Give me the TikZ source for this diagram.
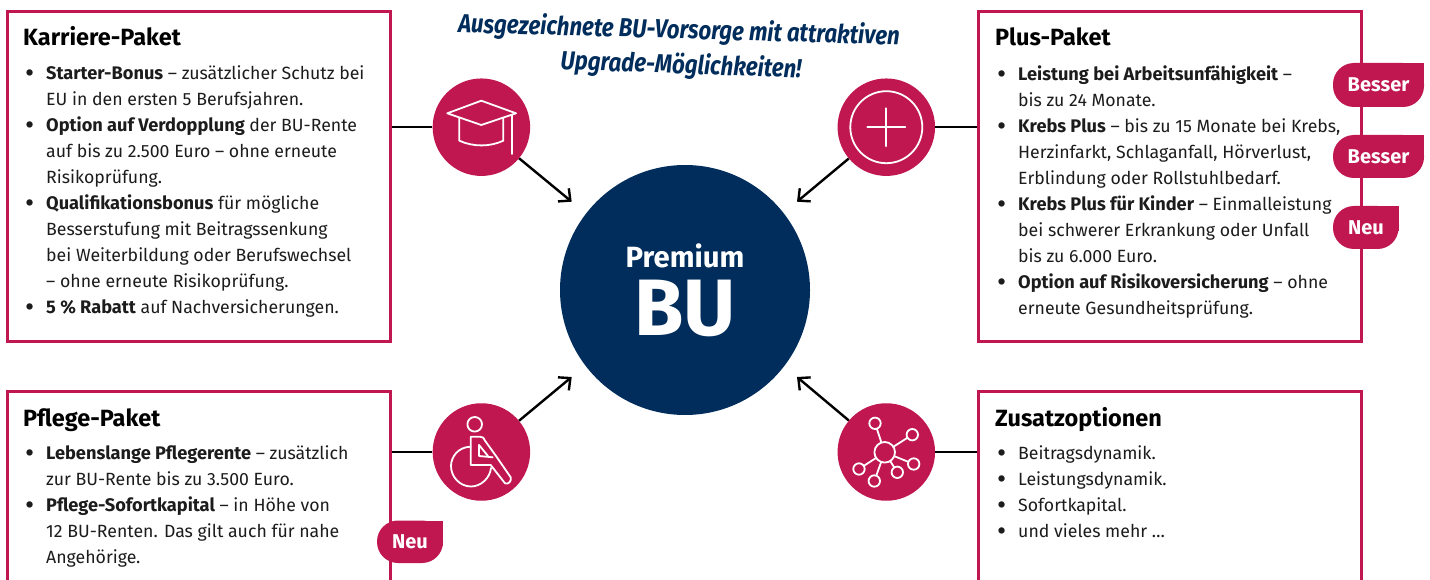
\documentclass[tikz,border=0pt]{standalone}
\usepackage{fontspec}
\setmainfont{Fira Sans}
\usetikzlibrary{arrows.meta,calc}
\definecolor{accent}{HTML}{C01750}
\definecolor{navy}{HTML}{002D5C}
\definecolor{ink}{HTML}{1C1C1C}
\newcommand{\itm}{\makebox[19pt][l]{\hspace{-2.2pt}\raisebox{-3.2pt}[0pt][0pt]{\fontsize{28}{28}\selectfont•}}}
\newcommand{\cnt}{\hspace*{19pt}}
\newcommand{\bd}[1]{{\fontsize{18.2}{26}\selectfont\bfseries #1}}
\newcommand{\badgeshape}[4]{%
  \fill[accent,rounded corners=21pt] (#1,#2) rectangle (#3,#4);
  \fill[accent] (#3-25,#2) rectangle (#3,#2+25);}
\tikzset{
  panel/.style={draw=accent,line width=2.8pt,anchor=north west,minimum width=383pt,fill=white,inner sep=0pt},
  disc/.style={circle,fill=accent,minimum size=97.5pt,inner sep=0pt},
  body/.style={anchor=north west,align=left,inner sep=0pt,text=ink,font=\fontsize{17.7}{26}\selectfont},
  head/.style={anchor=base west,inner sep=0pt,text=black,font=\fontsize{23.5}{28}\selectfont\bfseries},
  badgetext/.style={inner sep=0pt,text=white,font=\fontsize{20}{22}\selectfont\bfseries},
  tie/.style={draw=black,line width=2.4pt},
  flow/.style={draw=black,line width=2.4pt,-{Straight Barb[length=9pt,width=17pt,line width=2.4pt]}},
  glyph/.style={draw=white,line width=1.8pt,line join=round,line cap=round},
  slogan/.style={inner sep=0pt,text=navy,font=\fontsize{26}{30}\selectfont\itshape\bfseries}
}
\begin{document}
\begin{tikzpicture}[x=1pt,y=-1pt]
\clip (0,0) rectangle (1430,580);
\fill[white] (0,0) rectangle (1430,580);

% panels
\node[panel,minimum height=330pt] (karriere) at (6,10) {};
\node[panel,minimum height=330pt] (plus) at (977,10) {};
\node[panel,minimum height=210pt] (pflege) at (6,390) {};
\node[panel,minimum height=210pt] (zusatz) at (977,390) {};

% discs
\node[disc] (cap) at (481.4,127.2) {};
\node[disc] (add) at (886.3,127.2) {};
\node[disc] (care) at (481.4,452) {};
\node[disc] (net) at (886.3,452) {};
\node[circle,fill=navy,minimum size=250pt,inner sep=0pt] (core) at (685,290) {};
\node[inner sep=0pt,text=white,font=\fontsize{29.3}{32}\selectfont\bfseries] (premium) at (685,255.5) {Premium};
\node[inner sep=0pt,text=white,font=\fontsize{80}{84}\selectfont\bfseries] (bu) at (685,308) {BU};

% ties
\draw[tie] (cap.west) -- (cap.west -| karriere.east);
\draw[tie] (add.east) -- (add.east -| plus.west);
\draw[tie] (care.west) -- (care.west -| pflege.east);
\draw[tie] (net.east) -- (net.east -| zusatz.west);

% arrows
\coordinate (t1) at (571.7,201.7);
\coordinate (t2) at (797,201.7);
\coordinate (t3) at (571.7,377);
\coordinate (t4) at (797,377);
\draw[flow] (cap) -- (t1);
\draw[flow] (add) -- (t2);
\draw[flow] (care) -- (t3);
\draw[flow] (net) -- (t4);

% mortarboard
\draw[glyph] (481.3,100.7) -- (447.3,113.3) -- (481.3,125) -- (516,113.3) -- cycle;
\draw[glyph] (459.3,118.3) -- (459.3,140.7) .. controls (473,147) and (490,147) .. (503.3,140.7) -- (503.3,118.3);
\draw[glyph] (512,115) -- (512,154);

% plus
\draw[glyph] (886.3,127.2) circle (36);
\draw[glyph] (867.3,127.2) -- (905.3,127.2) (886.3,108.2) -- (886.3,146.2);

% wheelchair
\draw[glyph] (474.7,424.3) circle (7.3);
\draw[glyph] (470.7,436.7) -- (480,436.7) .. controls (483,436.7) and (484,438) .. (485,440.7) -- (496,456) -- (510.7,477.3) .. controls (512,481) and (508,485) .. (505,483.3) -- (490.7,465) -- (470.7,465) -- cycle;
\draw[glyph] (479,445) -- (479,456) -- (492.7,457.3);
\draw[glyph] (479,445) -- (488,456);
\draw[glyph] (470.7,446.7) .. controls (458,447) and (451,457) .. (451,466) .. controls (451,477) and (460,486.5) .. (471,486.5) .. controls (481,486.5) and (490,478) .. (491,468);

% network
\coordinate (hub) at (884.7,452.3);
\foreach \sx/\sy in {875/423.3,912.3/434.7,913.7/464,897.3/472.3,874.3/481,859/469}{
  \draw[glyph] (hub) -- (\sx,\sy);
  \draw[glyph,fill=accent] (\sx,\sy) circle (5.7);
}
\draw[glyph,fill=accent] (hub) circle (10.3);

% titles
\node[head] (h1) at (23,45.5) {Karriere-Paket};
\node[head] (h2) at (995,45.5) {Plus-Paket};
\node[head] (h3) at (23,426.5) {Pflege-Paket};
\node[head] (h4) at (995,426.5) {Zusatzoptionen};

% bodies
\node[body] (b1) at (27,65.5) {%
\itm\bd{Starter-Bonus} – zusätzlicher Schutz bei\\
\cnt EU in den ersten 5 Berufsjahren.\\
\itm\bd{Option auf Verdopplung} der BU-Rente\\
\cnt auf bis zu 2.500 Euro – ohne erneute\\
\cnt Risikoprüfung.\\
\itm\bd{Qualifikationsbonus} für mögliche\\
\cnt Besserstufung mit Beitragssenkung\\
\cnt bei Weiterbildung oder Berufswechsel\\
\cnt – ohne erneute Risikoprüfung.\\
\itm\bd{5 \% Rabatt} auf Nachversicherungen.};

\node[body] (b2) at (999,65.5) {%
\itm\bd{Leistung bei Arbeitsunfähigkeit} –\\
\cnt bis zu 24 Monate.\\
\itm\bd{Krebs Plus} – bis zu 15 Monate bei Krebs,\\
\cnt Herzinfarkt, Schlaganfall, Hörverlust,\\
\cnt Erblindung oder Rollstuhlbedarf.\\
\itm\bd{Krebs Plus für Kinder} – Einmalleistung\\
\cnt bei schwerer Erkrankung oder Unfall\\
\cnt bis zu 6.000 Euro.\\
\itm\bd{Option auf Risikoversicherung} – ohne\\
\cnt erneute Gesundheitsprüfung.};

\node[body] (b3) at (27,445.5) {%
\itm\bd{Lebenslange Pflegerente} – zusätzlich\\
\cnt zur BU-Rente bis zu 3.500 Euro.\\
\itm\bd{Pflege-Sofortkapital} – in Höhe von\\
\cnt 12 BU-Renten. Das gilt auch für nahe\\
\cnt Angehörige.};

\node[body] (b4) at (999,445.5) {%
\itm Beitragsdynamik.\\
\itm Leistungsdynamik.\\
\itm Sofortkapital.\\
\itm und vieles mehr …};

% badges
\badgeshape{1333}{63}{1424}{107}
\node[badgetext] (n1) at (1378.5,85) {Besser};
\badgeshape{1333}{135}{1424}{178}
\node[badgetext] (n2) at (1378.5,156.5) {Besser};
\badgeshape{1333}{206}{1398.5}{249}
\node[badgetext] (n3) at (1366,227.5) {Neu};
\badgeshape{377}{520.5}{443}{563}
\node[badgetext] (n4) at (410,542) {Neu};

% slogan
\node[slogan,rotate=-1.6,xscale=.855] (s1) at (679,31) {Ausgezeichnete BU-Vorsorge mit attraktiven};
\node[slogan,rotate=-2,xscale=.855] (s2) at (681,66) {Upgrade-Möglichkeiten!};
\end{tikzpicture}
\end{document}
